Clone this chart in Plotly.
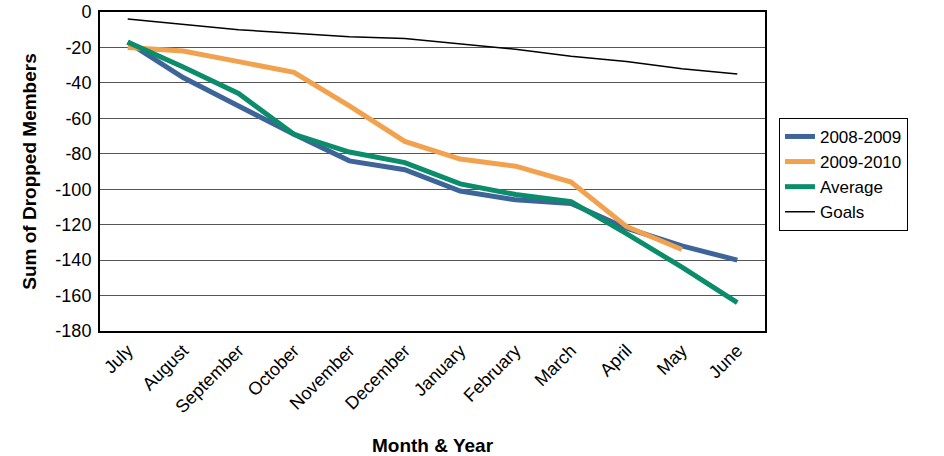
import plotly.graph_objects as go

months = ["July", "August", "September", "October", "November", "December",
          "January", "February", "March", "April", "May", "June"]
s2008 = [-17, -37, -53, -69, -84, -89, -101, -106, -108, -122, -132, -140]
s2009 = [-20, -22, -28, -34, -53, -73, -83, -87, -96, -121, -134, None]
average = [-17, -31, -46, -69, -79, -85, -97, -103, -107, -125, -144, -164]
goals = [-4, -7, -10, -12, -14, -15, -18, -21, -25, -28, -32, -35]
ytick_vals = [0, -20, -40, -60, -80, -100, -120, -140, -160, -180]
ytick_text = ["0", "-20", "-40", "-60", "-80", "-100", "-120", "-140", "-160", "-180"]

fig = go.Figure()
fig.add_trace(go.Scatter(x=months, y=s2008, mode="lines", name="2008-2009",
                         line=dict(color="#3D6599", width=5)))
fig.add_trace(go.Scatter(x=months, y=s2009, mode="lines", name="2009-2010",
                         line=dict(color="#F2A24E", width=5)))
fig.add_trace(go.Scatter(x=months, y=average, mode="lines", name="Average",
                         line=dict(color="#0B8C6B", width=5)))
fig.add_trace(go.Scatter(x=months, y=goals, mode="lines", name="Goals",
                         line=dict(color="black", width=1.5)))

fig.update_layout(
    width=944, height=456,
    margin=dict(l=100, r=179, t=12, b=125),
    paper_bgcolor="white", plot_bgcolor="white",
    font=dict(family="Liberation Sans, Arial, sans-serif", size=18, color="black"),
    legend=dict(x=1.021, y=0.668, xanchor="left", yanchor="top",
                bordercolor="black", borderwidth=1, bgcolor="white",
                font=dict(size=17), tracegroupgap=0, itemwidth=30,
                entrywidth=112, entrywidthmode="pixels"),
    xaxis=dict(type="category", range=[-0.5, 11.5], tickangle=-45, automargin=False,
               showgrid=False, showline=True, mirror=True, linecolor="black",
               linewidth=2, ticks="", tickfont=dict(size=18),
               title=dict(text="<b>Month & Year</b>", font=dict(size=19), standoff=31)),
    yaxis=dict(range=[-180, 0], tickvals=ytick_vals, ticktext=ytick_text,
               showgrid=True, gridcolor="#555555",
               gridwidth=1, showline=True, mirror=True, linecolor="black",
               linewidth=2, ticks="", zeroline=False, tickfont=dict(size=18),
               automargin=False, ticklabelstandoff=3, ticklabeloverflow="allow",
               title=dict(text="<b>Sum of Dropped Members</b>", font=dict(size=19), standoff=14)),
)

fig.write_html("out.html", config={"displayModeBar": False},
               post_script="document.body.style.margin='0';")
